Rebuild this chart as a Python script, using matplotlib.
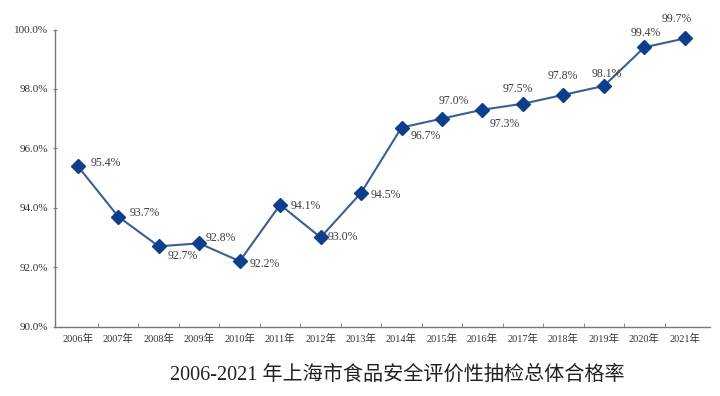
import numpy as np
import matplotlib
matplotlib.use('Agg')
import matplotlib.pyplot as plt
from matplotlib.ticker import FixedLocator, FuncFormatter

# 抽检合格率 (%)
years = ['2006年', '2007年', '2008年', '2009年', '2010年', '2011年', '2012年', '2013年',
         '2014年', '2015年', '2016年', '2017年', '2018年', '2019年', '2020年', '2021年']
rates = [95.4, 93.7, 92.7, 92.8, 92.2, 94.1, 93.0, 94.5,
         96.7, 97.0, 97.3, 97.5, 97.8, 98.1, 99.4, 99.7]
y_ticks = [90, 92, 94, 96, 98, 100]
title = '2006-2021 年上海市食品安全评价性抽检总体合格率'

# label offsets in pixels relative to each point
label_dx = [28, 26, 24, 22, 25, 26, 22, 25, 24, 12, 22, -5, -1, 3, 1, -8]
label_dy = [3, 4, -10, 5, -3, -1, 0, -2, -8, 18, -14, 15, 19, 12, 14, 19]

serif = ['Liberation Serif', 'Noto Sans CJK SC']

fig = plt.figure(figsize=(7.2, 3.96), dpi=100)
ax = fig.add_axes([0.076, 0.1755, 0.910, 0.750])

x = np.arange(len(years))
ax.plot(x, rates, color='#3a5f94', lw=1.5, marker='D', ms=7.5,
        mfc='#0f3f8c', mec='#0f3f8c', zorder=3)

for xi, v, dx, dy in zip(x, rates, label_dx, label_dy):
    ax.annotate(f'{v:.1f}%', (xi, v), xytext=(dx, dy), textcoords='offset pixels',
                ha='center', va='center', fontsize=8.5, color='#3c3c3c', family=serif)

ax.set_xlim(-0.57, 15.62)
ax.set_ylim(90, 100)
ax.yaxis.set_major_locator(FixedLocator(y_ticks))
ax.yaxis.set_major_formatter(FuncFormatter(lambda v, p: f'{v:.1f}%'))
ax.set_xticks(x)
ax.set_xticklabels(years, family=serif, fontsize=7.5, color='#333333')
ax.set_xticks(np.arange(len(years) - 1) + 0.5, minor=True)
ax.tick_params(axis='x', which='major', length=0, pad=5)
ax.tick_params(axis='x', which='minor', length=3, direction='in', color='#777777')
ax.tick_params(axis='y', length=3, direction='inout', color='#777777',
               labelsize=8, labelcolor='#333333', pad=3)
for lab in ax.get_yticklabels():
    lab.set_family(serif)

for s in ['top', 'right']:
    ax.spines[s].set_visible(False)
for s in ['left', 'bottom']:
    ax.spines[s].set_color('#777777')
    ax.spines[s].set_linewidth(1.0)

fig.text(0.552, 0.053, title, ha='center', va='center', fontsize=14.5,
         color='#222222', family=serif)

fig.savefig('out.png', dpi=100)
